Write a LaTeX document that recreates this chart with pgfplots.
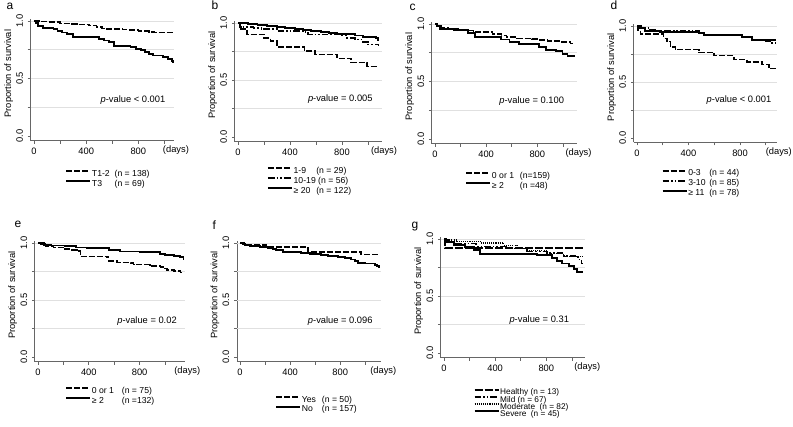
\documentclass[border=0pt]{standalone}
\usepackage{fontspec}
\setmainfont{Liberation Sans}
\usepackage{pgfplots}
\pgfplotsset{compat=1.18}

\tikzset{
  kmsolid/.style={black, line width=1.4pt},
  kmdash/.style={black, line width=1.2pt, dash pattern=on 4.5pt off 1.5pt},
  kmdd/.style={black, line width=1.2pt, dash pattern=on 5pt off 1.5pt on 1.2pt off 1.5pt on 1.2pt off 1.5pt},
  kmlong/.style={black, line width=1.2pt, dash pattern=on 6pt off 1.5pt},
  kmdot/.style={black, line width=1.1pt, dash pattern=on 0.8pt off 0.8pt},
  pval/.style={font=\fontsize{7}{8}\selectfont},
  letter/.style={anchor=base west, font=\fontsize{9}{9}\selectfont},
}

\pgfplotsset{
  km/.style={
    anchor=origin, axis lines*=left, clip=false,
    axis line style={black!60, line width=0.5pt},
    tick style={black!60, line width=0.5pt},
    tick align=outside, major tick length=2.25pt,
    xmin=-25, ymin=-0.04, ymax=1.02,
    xtick={0,200,400,600,800,1000}, xticklabels={0,,400,,800,},
    ytick={0,0.25,0.5,0.75,1}, yticklabels={0.0,,0.5,,1.0},
    yticklabel style={rotate=90, anchor=south},
    extra y ticks={0.25,0.5,0.75,1}, extra y tick labels={},
    extra y tick style={grid=major, major tick length=0pt},
    grid style={black!12, line width=0.5pt},
    ticklabel style={font=\fontsize{7}{8}\selectfont},
    ylabel={Proportion of survival},
    ylabel style={font=\fontsize{7}{8}\selectfont, at={([xshift=-16.5pt]axis description cs:0,0.55)}, anchor=center},
    legend style={draw=none, fill=none, anchor=north west, inner sep=0pt,
      font=\fontsize{6.5}{6.5}\selectfont, row sep=0.7pt,
      nodes={inner sep=0.5pt, text height=4.5pt, text depth=1.2pt}},
    legend cell align=left,
    legend image code/.code={\draw[##1, line width=1.5pt] (0pt,2.2pt) -- (18pt,2.2pt);},
  },
}
\newcommand{\days}{\node[pval] at ([xshift=1.5pt, yshift=-7pt]rel axis cs:1,0) {(days)};}

\begin{document}
\begin{tikzpicture}
\path[use as bounding box] (0pt,0pt) rectangle (594.75pt,319.5pt);

% a
\begin{axis}[km, at={(25.5pt,217.5pt)}, x=0.0978pt, y=86.25pt, xmax=1073,
  legend style={at={(axis cs:238,-0.29)}}]
\addplot[kmdash, const plot] coordinates {(0,1)(60,0.995)(120,0.99)(200,0.98)(280,0.975)(330,0.97)(420,0.96)(480,0.95)(520,0.935)(540,0.93)(680,0.925)(720,0.92)(800,0.915)(880,0.905)(920,0.9)(1068,0.9)};
\addlegendentry{\makebox[17pt][l]{T1-2}(n = 138)}
\addplot[kmsolid, const plot] coordinates {(0,1)(15,0.985)(30,0.96)(70,0.94)(150,0.93)(180,0.915)(215,0.9)(250,0.885)(300,0.86)(500,0.845)(540,0.83)(575,0.815)(615,0.785)(740,0.775)(780,0.76)(820,0.745)(850,0.73)(880,0.715)(910,0.7)(990,0.685)(1030,0.67)(1055,0.65)(1068,0.635)};
\addlegendentry{\makebox[17pt][l]{T3}(n = 69)}
\node[pval] at (axis cs:759,0.313) {\textit{p}-value < 0.001};
\days
\end{axis}

% b
\begin{axis}[km, at={(178.5pt,216.75pt)}, x=0.0975pt, y=85.5pt, xmax=1108,
  legend style={at={(axis cs:221,-0.26)}}]
\addplot[kmdash, const plot] coordinates {(0,1)(10,0.945)(70,0.9)(200,0.87)(250,0.84)(300,0.79)(510,0.755)(590,0.725)(760,0.69)(870,0.655)(990,0.62)(1082,0.62)};
\addlegendentry{\makebox[17pt][l]{1-9}(n = 29)}
\addplot[kmdd, const plot] coordinates {(0,1)(20,0.965)(120,0.955)(180,0.945)(300,0.93)(500,0.92)(540,0.9)(800,0.89)(840,0.87)(900,0.855)(960,0.835)(1000,0.81)(1082,0.80)};
\addlegendentry{10-19 (n = 56)}
\addplot[kmsolid, const plot] coordinates {(0,1)(80,0.995)(150,0.985)(220,0.975)(300,0.965)(360,0.955)(440,0.95)(500,0.94)(560,0.93)(640,0.92)(700,0.91)(760,0.905)(860,0.9)(900,0.89)(960,0.88)(1060,0.87)(1075,0.85)(1082,0.85)};
\addlegendentry{\makebox[17pt][l]{≥ 20}(n = 122)}
\node[pval] at (axis cs:787,0.334) {\textit{p}-value = 0.005};
\days
\end{axis}

% c
\begin{axis}[km, at={(326.25pt,215.25pt)}, x=0.0959pt, y=86.25pt, xmax=1107,
  legend style={at={(axis cs:235,-0.284)}}]
\addplot[kmdash, const plot] coordinates {(0,1)(20,0.985)(50,0.965)(100,0.955)(180,0.945)(300,0.93)(450,0.915)(520,0.9)(560,0.885)(640,0.875)(760,0.87)(820,0.86)(880,0.85)(980,0.845)(1060,0.83)(1094,0.83)};
\addlegendentry{\makebox[21pt][l]{0 or 1}(n=159)}
\addplot[kmsolid, const plot] coordinates {(0,1)(15,0.98)(39,0.955)(150,0.95)(259,0.922)(311,0.89)(518,0.865)(583,0.843)(660,0.826)(816,0.797)(868,0.777)(945,0.762)(997,0.739)(1036,0.72)(1094,0.72)};
\addlegendentry{\makebox[21pt][l]{≥ 2}(n =48)}
\node[pval] at (axis cs:756,0.328) {\textit{p}-value = 0.100};
\days
\end{axis}

% d
\begin{axis}[km, at={(477.75pt,216pt)}, x=0.0966pt, y=84pt, xmax=1085,
  legend style={at={(axis cs:189,-0.277)}}]
\addplot[kmdash, const plot] coordinates {(0,1)(10,0.96)(26,0.93)(207,0.89)(233,0.86)(259,0.815)(298,0.79)(479,0.765)(596,0.735)(751,0.70)(855,0.676)(971,0.655)(1023,0.62)(1080,0.62)};
\addlegendentry{\makebox[15.75pt][l]{0-3}(n = 44)}
\addplot[kmdd, const plot] coordinates {(0,1)(30,0.985)(90,0.965)(150,0.96)(300,0.955)(479,0.94)(520,0.925)(700,0.92)(820,0.9)(894,0.88)(980,0.865)(1050,0.85)(1075,0.835)(1080,0.835)};
\addlegendentry{\makebox[15.75pt][l]{3-10}(n = 85)}
\addplot[kmsolid, const plot] coordinates {(0,1)(20,0.985)(65,0.955)(180,0.95)(479,0.935)(518,0.92)(816,0.9)(894,0.875)(1080,0.875)};
\addlegendentry{\makebox[15.75pt][l]{≥ 11}(n = 78)}
\node[pval] at (axis cs:792,0.337) {\textit{p}-value < 0.001};
\days
\end{axis}

% e
\begin{axis}[km, at={(28.5pt,51.75pt)}, x=0.0953pt, y=85.5pt, xmax=1159,
  legend style={at={(axis cs:212,-0.26)}}]
\addplot[kmdash, const plot] coordinates {(0,1)(20,0.99)(60,0.975)(123,0.962)(200,0.95)(268,0.94)(307,0.93)(333,0.883)(540,0.875)(556,0.84)(620,0.83)(727,0.825)(753,0.81)(880,0.8)(963,0.79)(1000,0.775)(1015,0.765)(1068,0.755)(1120,0.74)(1150,0.74)};
\addlegendentry{\makebox[22.5pt][l]{0 or 1}(n = 75)}
\addplot[kmsolid, const plot] coordinates {(0,1)(45,0.985)(100,0.978)(215,0.97)(300,0.96)(386,0.955)(560,0.94)(648,0.925)(800,0.92)(963,0.905)(1000,0.895)(1070,0.885)(1120,0.875)(1145,0.86)(1150,0.86)};
\addlegendentry{\makebox[22.5pt][l]{≥ 2}(n =132)}
\node[pval] at (axis cs:858,0.315) {\textit{p}-value = 0.02};
\days
\end{axis}

% f
\begin{axis}[km, at={(180pt,51.75pt)}, x=0.0940pt, y=85.5pt, xmax=1127,
  legend style={at={(axis cs:279,-0.335)}}]
\addplot[kmdash, const plot] coordinates {(0,1)(37,0.985)(210,0.965)(542,0.92)(967,0.898)(1114,0.898)};
\addlegendentry{\makebox[15pt][l]{Yes}(n = 50)}
\addplot[kmsolid, const plot] coordinates {(0,1)(20,0.99)(37,0.98)(80,0.975)(117,0.97)(160,0.965)(223,0.955)(260,0.945)(290,0.935)(343,0.92)(489,0.91)(560,0.9)(649,0.895)(702,0.885)(780,0.875)(835,0.865)(888,0.855)(920,0.84)(941,0.825)(1000,0.82)(1074,0.81)(1095,0.795)(1106,0.785)(1114,0.785)};
\addlegendentry{\makebox[15pt][l]{No}(n = 157)}
\node[pval] at (axis cs:800,0.313) {\textit{p}-value = 0.096};
\days
\end{axis}

% g
\begin{axis}[km, at={(333pt,54.75pt)}, x=0.0959pt, y=85.5pt, xmax=1105,
  legend style={at={(axis cs:229,-0.307)}, row sep=-1.4pt, font=\fontsize{6.2}{6.2}\selectfont}]
\addplot[kmlong, const plot] coordinates {(0,1)(10,0.92)(1084,0.92)};
\addlegendentry{Healthy (n = 13)}
\addplot[kmdd, const plot] coordinates {(0,1)(20,0.97)(90,0.96)(250,0.935)(500,0.915)(649,0.89)(805,0.875)(936,0.85)(1050,0.82)(1075,0.785)(1084,0.785)};
\addlegendentry{Mild (n = 67)}
\addplot[kmdot, const plot] coordinates {(0,1)(30,0.99)(102,0.98)(284,0.965)(467,0.945)(571,0.915)(649,0.9)(805,0.875)(936,0.845)(1084,0.845)};
\addlegendentry{Moderate \ (n = 82)}
\addplot[kmsolid, const plot] coordinates {(0,1)(5,0.975)(76,0.945)(167,0.93)(232,0.9)(284,0.865)(727,0.857)(844,0.833)(883,0.805)(922,0.785)(975,0.76)(1014,0.735)(1040,0.71)(1084,0.71)};
\addlegendentry{Severe \ (n = 45)}
\node[pval] at (axis cs:745,0.29) {\textit{p}-value = 0.31};
\days
\end{axis}

\node[letter] at (1.5pt,312.5pt) {a};
\node[letter] at (155.25pt,312pt) {b};
\node[letter] at (303.75pt,311.25pt) {c};
\node[letter] at (454.5pt,312pt) {d};
\node[letter] at (7.5pt,149.25pt) {e};
\node[letter] at (156pt,147.75pt) {f};
\node[letter] at (305.25pt,148.5pt) {g};
\end{tikzpicture}
\end{document}
